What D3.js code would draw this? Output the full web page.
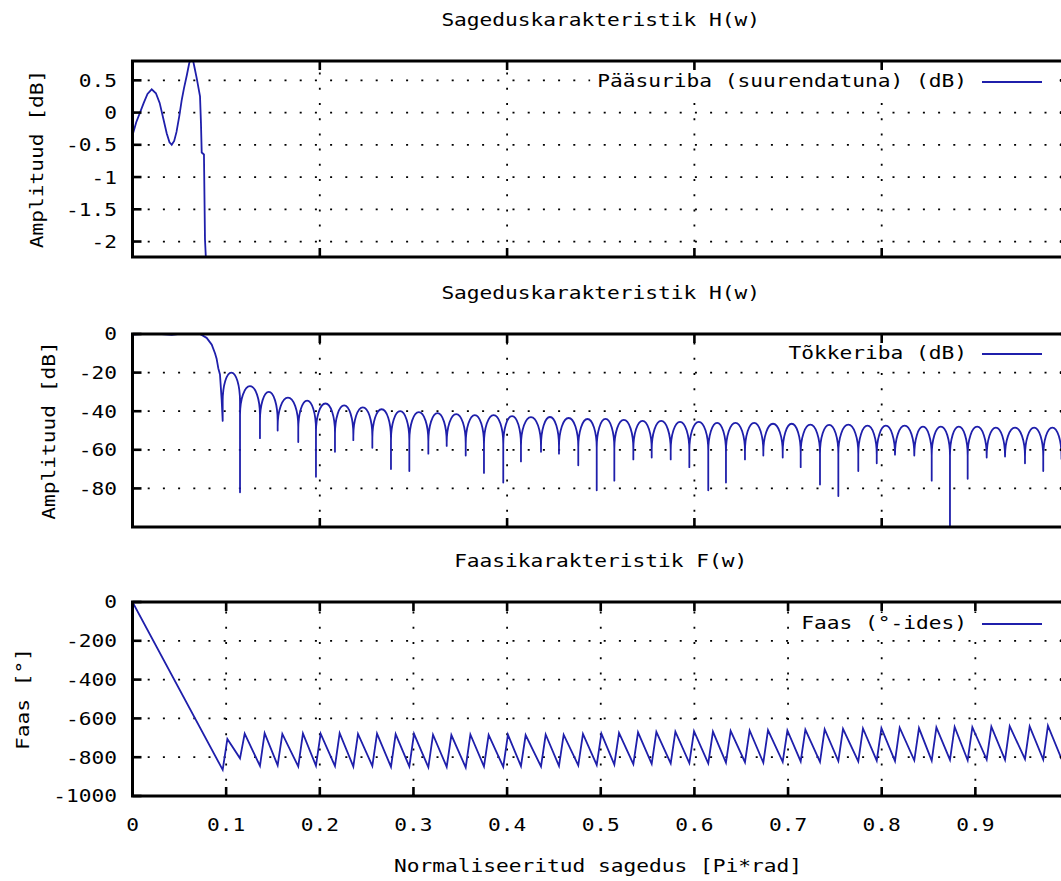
<!DOCTYPE html>
<html>
<head>
<meta charset="utf-8">
<script src="https://cdn.jsdelivr.net/npm/d3@7"></script>
<style>
  body { margin: 0; background: #fff; }
  svg text { font-family: "DejaVu Sans Mono", monospace; font-size: 18px; fill: #000; }
</style>
</head>
<body>
<script>
// pääsuriba (suurendatuna), dB
const passX = [0, 0.004, 0.008, 0.012, 0.016, 0.0205, 0.025, 0.029, 0.033, 0.0365, 0.0395, 0.0419, 0.0445, 0.047, 0.050, 0.0525, 0.055, 0.058, 0.0605, 0.0625, 0.0645, 0.0665, 0.0686, 0.0721, 0.0731, 0.0739, 0.0763, 0.0774, 0.0785, 0.080];
const passY = [-0.35, -0.15, 0.0, 0.15, 0.29, 0.36, 0.3, 0.15, -0.1, -0.32, -0.46, -0.5, -0.44, -0.3, -0.05, 0.19, 0.38, 0.58, 0.76, 0.86, 0.82, 0.68, 0.53, 0.25, -0.16, -0.62, -0.65, -1.97, -2.3, -2.8];

// pääsuriba + üleminek tõkkeribasse (dB)
const transX = [0, 0.0205, 0.0419, 0.0625, 0.0721, 0.0792, 0.0846, 0.0881, 0.0899, 0.0916, 0.0934, 0.0952];
const transY = [-0.35, 0.36, -0.5, 0.8, 0, -2, -5.5, -10, -13, -17.7, -21, -34];

// tõkkeriba: nullkohad, nende sügavus ja lehtede tipud (dB)
const nullX = [0.0963, 0.1148, 0.1361, 0.1550, 0.1770, 0.1959, 0.2162, 0.2358, 0.2561, 0.2760, 0.2956, 0.3159, 0.3355, 0.3558, 0.3753, 0.3959, 0.4148, 0.4362, 0.4554, 0.4760, 0.4957, 0.5145, 0.5348, 0.5544, 0.5747, 0.5946, 0.6148, 0.6337, 0.6540, 0.6736, 0.6943, 0.7135, 0.7341, 0.7537, 0.7750, 0.7947, 0.8142, 0.8348, 0.8534, 0.8729, 0.8918, 0.9121, 0.9317, 0.9530, 0.9725, 0.9920];
const nullDb = [-45, -82, -54, -50, -56, -74, -61, -55, -59, -70, -71, -62, -58, -63, -72, -77, -66, -61, -62, -68, -81, -76, -65, -64, -65, -69, -81, -77, -65, -63, -64, -69, -78, -84, -71, -67, -61, -63, -76, -110, -75, -64, -62, -67, -71, -65];
const lobeDb = [-20, -27, -30, -33, -34.5, -36, -37, -38, -39, -40, -40.5, -41, -41.5, -42, -42, -42.5, -43, -43, -43.5, -44, -44, -44.5, -45, -45, -45.5, -45.5, -46, -46, -46, -46.5, -46.5, -47, -47, -47, -47.5, -47.5, -47.5, -48, -48, -48, -48, -48.5, -48.5, -48.5, -48.5];
const lobeDepth = 15; // lehe kaare kõrgus enne nullkohta, dB

// faas (kraadides): hamba põhi nullkohas, hüpe üles
const phaseBottom = [-865, -806, -845, -842, -848, -844, -846, -848, -845, -850, -848, -852, -850, -853, -848, -850, -846, -848, -845, -842, -840, -838, -836, -834, -832, -830, -832, -828, -826, -828, -824, -822, -824, -820, -822, -818, -820, -816, -818, -814, -816, -812, -814, -810, -812, -808];
const phaseTopX = [0.1013, 0.1198, 0.1411, 0.1600, 0.1820, 0.2009, 0.2212, 0.2408, 0.2611, 0.2810, 0.3006, 0.3209, 0.3405, 0.3608, 0.3803, 0.4009, 0.4198, 0.4412, 0.4604, 0.4810, 0.5007, 0.5195, 0.5398, 0.5594, 0.5797, 0.5996, 0.6198, 0.6387, 0.6590, 0.6786, 0.6993, 0.7185, 0.7391, 0.7587, 0.7800, 0.7997, 0.8192, 0.8398, 0.8584, 0.8779, 0.8968, 0.9171, 0.9367, 0.9580, 0.9775, 0.9970];
const phaseTop = [-706, -678, -676, -680, -677, -679, -676, -680, -678, -681, -680, -684, -686, -683, -685, -684, -686, -683, -684, -680, -678, -675, -672, -670, -668, -666, -668, -664, -662, -660, -662, -658, -656, -654, -652, -650, -648, -650, -646, -644, -645, -642, -640, -641, -638, -636];
const phaseStart = [0, 0];
const phaseEnd = [1, -663];

// teljed
const magXTicks = [0.2, 0.4, 0.6, 0.8];
const phaseXTicks = [0.1, 0.2, 0.3, 0.4, 0.5, 0.6, 0.7, 0.8, 0.9];
const xTickLabels = ["0", "0.1", "0.2", "0.3", "0.4", "0.5", "0.6", "0.7", "0.8", "0.9"];
const passTicks = [0.5, 0, -0.5, -1, -1.5, -2];
const passTickLabels = ["0.5", "0", "-0.5", "-1", "-1.5", "-2"];
const stopTicks = [0, -20, -40, -60, -80];
const stopTickLabels = ["0", "-20", "-40", "-60", "-80"];
const phaseTicks = [0, -200, -400, -600, -800, -1000];
const phaseTickLabels = ["0", "-200", "-400", "-600", "-800", "-1000"];

const titles = ["Sageduskarakteristik H(w)", "Sageduskarakteristik H(w)", "Faasikarakteristik F(w)"];
const yLabels = ["Amplituud [dB]", "Amplituud [dB]", "Faas [°]"];
const keys = ["Pääsuriba (suurendatuna) (dB)", "Tõkkeriba (dB)", "Faas (°-ides)"];
const xLabel = "Normaliseeritud sagedus [Pi*rad]";

const W = 1061, H = 881;
const CH = 12.75;           // märgi laius
const LINE = "#1f1fab";
const LW = 1.8;

const svg = d3.select("body").append("svg").attr("width", W).attr("height", H);
const x = d3.scaleLinear().domain([0, 1]).range([132.5, 1069]);

function label(s, px, py, anchor, rot) {
  const t = svg.append("text")
    .attr("x", px).attr("y", py)
    .attr("dy", "0.36em")
    .attr("text-anchor", anchor)
    .attr("textLength", s.length * CH)
    .attr("lengthAdjust", "spacingAndGlyphs")
    .text(s);
  if (rot) t.attr("transform", `rotate(-90,${px},${py})`);
  return t;
}

const panels = [
  { top: 61, bottom: 257, dom: [-2.24, 0.8], yt: passTicks, ytl: passTickLabels, xt: magXTicks, ylabX: 37, keyY: 81 },
  { top: 334, bottom: 527, dom: [-100, 0], yt: stopTicks, ytl: stopTickLabels, xt: magXTicks, ylabX: 49, keyY: 353 },
  { top: 602, bottom: 796, dom: [-1000, 0], yt: phaseTicks, ytl: phaseTickLabels, xt: phaseXTicks, ylabX: 23, keyY: 623 }
];

panels.forEach((p, i) => {
  p.y = d3.scaleLinear().domain(p.dom).range([p.bottom, p.top]);
  const x0 = x.range()[0], x1 = x.range()[1];

  // ruudustik
  const grid = svg.append("g").attr("stroke", "#000").attr("stroke-width", 1.8)
    .attr("stroke-dasharray", "2 13.2");
  p.yt.forEach(v => grid.append("line")
    .attr("x1", x0).attr("x2", x1).attr("y1", p.y(v)).attr("y2", p.y(v)));
  p.xt.forEach(v => grid.append("line")
    .attr("x1", x(v)).attr("x2", x(v)).attr("y1", p.bottom).attr("y2", p.top));

  svg.append("clipPath").attr("id", "clip" + i).append("rect")
    .attr("x", x0).attr("y", p.top).attr("width", x1 - x0).attr("height", p.bottom - p.top);
  p.plot = svg.append("g").attr("clip-path", `url(#clip${i})`);

  // pealkiri ja y-telje nimi
  label(titles[i], (x0 + x1) / 2, p.top - 41, "middle");
  label(yLabels[i], p.ylabX, (p.top + p.bottom) / 2, "middle", true);
});

// 1. pääsuriba
const p1 = panels[0];
p1.plot.append("path")
  .attr("d", d3.line().x(d => x(d[0])).y(d => p1.y(d[1]))(d3.zip(passX, passY)))
  .attr("fill", "none").attr("stroke", LINE).attr("stroke-width", LW);

// 2. tõkkeriba
const p2 = panels[1];
let d2 = d3.line().x(d => x(d[0])).y(d => p2.y(d[1]))(d3.zip(transX, transY));
d2 += `L${x(nullX[0])},${p2.y(nullDb[0])}`;
lobeDb.forEach((v, i) => {
  const xa = x(nullX[i]), xb = x(nullX[i + 1]);
  const yb = p2.y(v - lobeDepth);
  const ry = yb - p2.y(v);
  d2 += `L${xa},${yb}A${(xb - xa) / 2},${ry} 0 0 1 ${xb},${yb}L${xb},${p2.y(nullDb[i + 1])}`;
});
p2.plot.append("path").attr("d", d2)
  .attr("fill", "none").attr("stroke", LINE).attr("stroke-width", LW).attr("stroke-linejoin", "round");

// 3. faas
const p3 = panels[2];
const phasePts = [phaseStart];
nullX.forEach((v, i) => {
  phasePts.push([v, phaseBottom[i]]);
  phasePts.push([phaseTopX[i], phaseTop[i]]);
});
phasePts.push(phaseEnd);
p3.plot.append("path")
  .attr("d", d3.line().x(d => x(d[0])).y(d => p3.y(d[1]))(phasePts))
  .attr("fill", "none").attr("stroke", LINE).attr("stroke-width", LW);

// legendid, raamid, kriipsud
panels.forEach((p, i) => {
  const x0 = x.range()[0], x1 = x.range()[1];
  const tw = keys[i].length * CH;
  svg.append("rect").attr("x", 967 - tw - 7).attr("y", p.keyY - 10)
    .attr("width", 1052 - (967 - tw - 7)).attr("height", 20).attr("fill", "#fff");
  label(keys[i], 967, p.keyY, "end");
  svg.append("line").attr("x1", 982).attr("x2", 1042).attr("y1", p.keyY + 1).attr("y2", p.keyY + 1)
    .attr("stroke", LINE).attr("stroke-width", LW);

  const ax = svg.append("g").attr("stroke", "#000").attr("stroke-width", 2.6);
  p.yt.forEach((v, k) => {
    ax.append("line").attr("x1", x0).attr("x2", x0 + 9).attr("y1", p.y(v)).attr("y2", p.y(v));
    ax.append("line").attr("x1", x1 - 9).attr("x2", x1).attr("y1", p.y(v)).attr("y2", p.y(v));
    label(p.ytl[k], 117, p.y(v), "end");
  });
  p.xt.forEach(v => {
    ax.append("line").attr("x1", x(v)).attr("x2", x(v)).attr("y1", p.top).attr("y2", p.top + 9);
    ax.append("line").attr("x1", x(v)).attr("x2", x(v)).attr("y1", p.bottom).attr("y2", p.bottom - 9);
  });
  svg.append("rect").attr("x", x0).attr("y", p.top).attr("width", x1 - x0).attr("height", p.bottom - p.top)
    .attr("fill", "none").attr("stroke", "#000").attr("stroke-width", 3);
});

// x-telje sildid
[0].concat(phaseXTicks).forEach((v, k) => label(xTickLabels[k], x(v), 825, "middle"));
label(xLabel, 598, 866, "middle");
</script>
</body>
</html>
